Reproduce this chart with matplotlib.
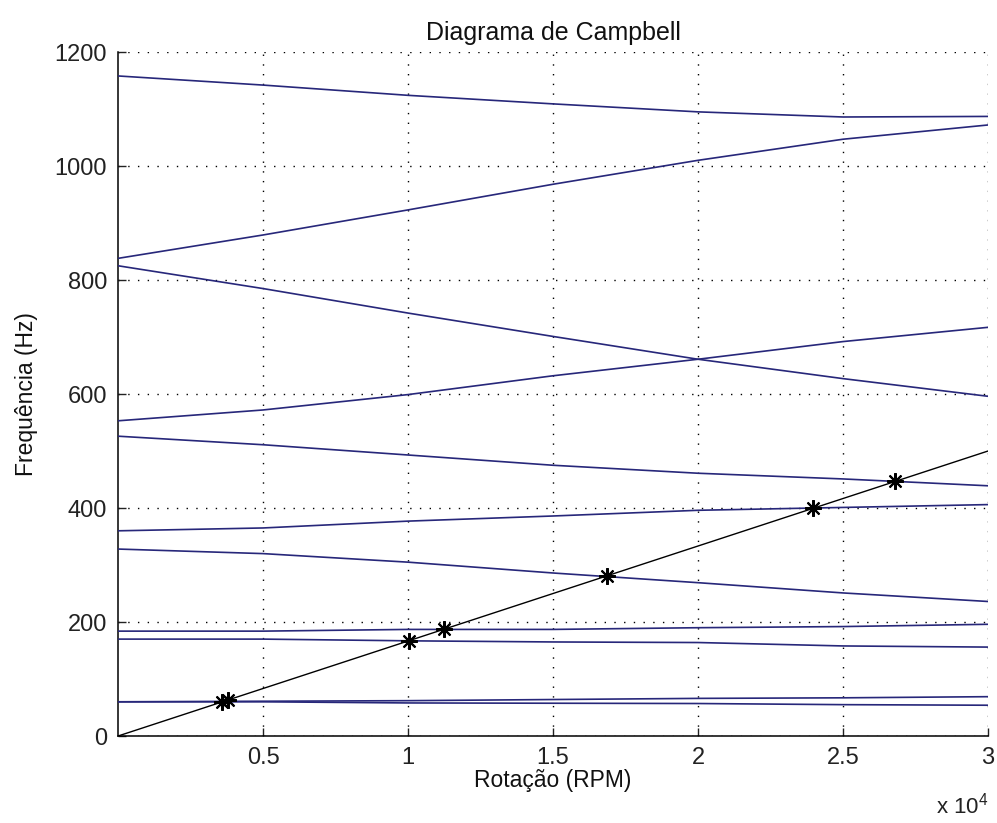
import numpy as np
import matplotlib
matplotlib.use("Agg")
import matplotlib.pyplot as plt
from matplotlib.ticker import FixedLocator

plt.rcParams['font.family'] = ['Liberation Sans', 'DejaVu Sans']
plt.rcParams['mathtext.fontset'] = 'custom'
plt.rcParams['mathtext.rm'] = 'Liberation Sans'

# ---- data ----
rpm = [0, 5000, 10000, 15000, 20000, 25000, 30000]
mode_a = [1158, 1142, 1124, 1109, 1095, 1086, 1087]
mode_b = [838, 879, 923, 968, 1010, 1047, 1072]
mode_c = [825, 785, 742, 701, 661, 627, 596]
mode_d = [553, 572, 599, 632, 661, 692, 717]
mode_e = [526, 511, 493, 475, 461, 451, 439]
mode_f = [360, 365, 377, 386, 396, 401, 406]
mode_g = [328, 320, 305, 286, 269, 251, 236]
mode_h = [184, 184, 187, 187, 190, 192, 196]
mode_i = [170, 170, 167, 165, 164, 158, 156]
mode_j = [60, 61, 62, 64, 66, 67, 69]
mode_k = [60, 60, 58, 57.5, 57, 55, 54]
modes = [mode_a, mode_b, mode_c, mode_d, mode_e, mode_f, mode_g,
         mode_h, mode_i, mode_j, mode_k]

excitation_rpm = [0, 30000]           # 1X line: f = RPM / 60
crossing_rpm = [3600, 3780, 10050, 11250, 16850, 23950, 26800]

x_ticks = [5000, 10000, 15000, 20000, 25000, 30000]
x_tick_labels = ['0.5', '1', '1.5', '2', '2.5', '3']
y_ticks = [0, 200, 400, 600, 800, 1000, 1200]

# ---- figure ----
fig = plt.figure(figsize=(9.97, 8.23), dpi=100)
ax = fig.add_axes([0.1184, 0.1057, 0.991 - 0.1184, 0.9368 - 0.1057])

blue = '#27277a'
for m in modes:
    ax.plot(rpm, m, color=blue, lw=1.2, zorder=3)

ex = np.array(excitation_rpm, dtype=float)
ax.plot(ex, ex / 60.0, color='black', lw=1.0, zorder=4)

cr = np.array(crossing_rpm, dtype=float)
ax.plot(cr, cr / 60.0, linestyle='none', marker=(8, 2, 0), markersize=12,
        markeredgewidth=1.5, color='black', zorder=5)

ax.set_xlim(0, 30000)
ax.set_ylim(0, 1200)
ax.xaxis.set_major_locator(FixedLocator(x_ticks))
ax.set_xticklabels(x_tick_labels)
ax.set_yticks(y_ticks)

ax.grid(True, color='black', linestyle=(0, (1, 6)), linewidth=1.0)
ax.set_axisbelow(True)

for s in ['top', 'right']:
    ax.spines[s].set_visible(False)
for s in ['left', 'bottom']:
    ax.spines[s].set_linewidth(1.1)

ax.tick_params(direction='in', length=6, width=1.0, labelsize=17, pad=8,
               colors='#222222')

ax.set_title('Diagrama de Campbell', fontsize=18, pad=9, color='#111111')
ax.set_xlabel('Rotação (RPM)', fontsize=16.5, labelpad=0, color='#111111')
ax.set_ylabel('Frequência (Hz)', fontsize=16.5, labelpad=12, color='#111111')

ax.text(1.0, -0.083, r'x 10$^{4}$', transform=ax.transAxes, ha='right',
        va='top', fontsize=16, color='#222222')

fig.savefig('out.png', dpi=100)
